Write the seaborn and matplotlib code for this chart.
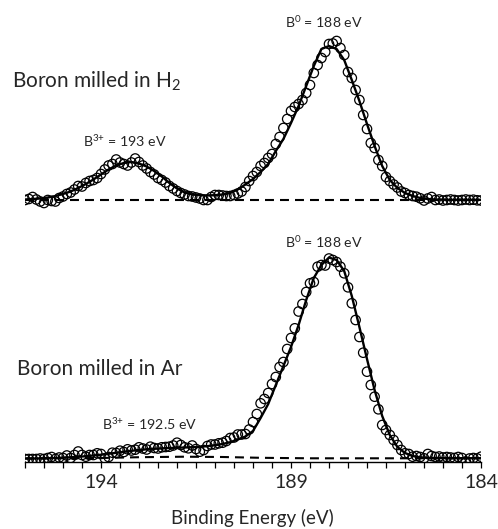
import numpy as np
import pandas as pd
import matplotlib
matplotlib.use("Agg")
import matplotlib.pyplot as plt
from matplotlib.ticker import FixedLocator, MultipleLocator, NullFormatter
import seaborn as sns

# Binding-energy scan (eV): measured points every 0.1 eV, fitted envelope every 0.2 eV
energy_scan = np.linspace(196.0, 184.0, 121)
energy_fit = np.linspace(196.0, 184.0, 61)

# B 1s, boron milled in H2 (intensity, arbitrary units)
h2_counts = [0, 1, 3, 0.5, -1.5, -3, 0, -1, -1.5, 2,
             3.5, 6, 7.5, 10.5, 14, 13.5, 17, 19, 20, 22,
             26, 30.5, 34.5, 36, 40.5, 37.5, 36, 34.5, 37.5, 41.5,
             38, 34.5, 31.5, 28, 25.5, 22, 20, 17.5, 14, 11.5,
             9, 7, 5.5, 4, 3.5, 2.5, 1.5, 0, 0, 3,
             5, 5, 4.5, 4, 4, 5, 6.5, 8.5, 13, 19,
             24, 28, 34, 37, 42, 46, 56, 63, 72, 81,
             89, 93, 96, 100, 107, 115, 127, 135, 142, 148,
             156, 156.5, 159, 152, 145, 128, 122, 110, 100, 85,
             71, 57, 52, 40, 34, 23, 19, 15.5, 12.5, 8.5,
             7, 5, 4, 3.3, 1.7, -0.5, 1.5, 3, 0, 0.5,
             -0.5, 0, 0.5, 0, -0.5, 0, 0.5, 0, 0.3, -0.3,
             -0.5]
h2_fit = [0.5, 1, 1.5, 2.5, 4, 6, 8.5, 12, 16, 20.5,
          25.5, 30.5, 34.5, 37, 38, 36.5, 33.5, 29, 23.5, 17,
          11.5, 7.5, 5.5, 4.8, 4.6, 4.8, 5.5, 7, 10.5, 15.5,
          21, 28, 36, 49, 61, 77, 94, 114, 134, 151,
          154, 151, 140, 120, 99, 76, 54, 34, 20, 12,
          7, 4, 2, 1, 0.5, 0.3, 0.2, 0.2, 0.2, 0.2,
          0.2]
h2_background_energy = [196.0, 184.0]
h2_background = [0.0, 0.0]

# B 1s, boron milled in Ar
ar_counts = [3, 3, 3, 3, 3.5, 3, 4, 5, 3, 4.5,
             4, 6.5, 4, 7, 10.5, 7, 5.3, 7, 7, 8.7,
             8, 3.7, 5, 9.3, 9, 11.3, 10, 12.7, 11.5, 12.3,
             14.7, 13.5, 12.5, 15.3, 14, 13.5, 14.7, 15, 15.3, 16.5,
             19.3, 17, 14.7, 13.7, 16.5, 13, 10.3, 12, 16, 17.5,
             17.5, 18.7, 19.3, 21, 24, 24.5, 27.5, 27.5, 28, 32.5,
             40, 48, 58.7, 63, 69, 78, 85, 95, 100, 113,
             124, 133.7, 150.5, 158, 170, 178.7, 180, 195.3, 197, 196.5,
             203.5, 202, 200, 195.3, 188.7, 174.7, 158.7, 142, 125, 109.3,
             90.3, 77, 65.3, 52.7, 37, 32, 27, 22, 17, 12,
             8.7, 8, 5.3, 6, 5, 3.7, 8, 6, 5, 5.5,
             4.5, 5, 4.5, 4, 5, 4, 0.5, 3.5, 4, 3.5,
             5.3]
ar_fit = [3.5, 3.5, 3.6, 3.8, 4, 4.3, 4.7, 5.2, 5.8, 6.5,
          7.3, 8.2, 9.2, 10.2, 11.2, 12, 12.7, 13.2, 13.6, 14,
          14.3, 14.5, 14.8, 15.3, 15.8, 16.8, 18, 19.8, 22.5, 25.5,
          31, 44, 58, 77, 96, 115, 137, 162, 184, 197,
          204.5, 202, 191, 166, 135, 103, 72, 46, 27, 15,
          9, 6, 4.7, 4.2, 4, 3.9, 3.8, 3.8, 3.8, 3.8,
          3.8]
ar_background_energy = [196.0, 194.0, 193.0, 191.8, 190.8, 189.8, 188.5, 184.0]
ar_background = [3.5, 4.0, 4.8, 5.3, 5.0, 4.2, 3.7, 3.7]

tick_values = [194, 189, 184]
tick_labels = ["194", "189", "184"]

H2_OFFSET = 262  # vertical shift that stacks the H2 spectrum above the Ar one

sns.set_style("white")
plt.rcParams["font.family"] = ["Lato", "DejaVu Sans"]
plt.rcParams["mathtext.fontset"] = "custom"
plt.rcParams["mathtext.rm"] = "Lato"
plt.rcParams["mathtext.default"] = "regular"

W, H = 498, 529
fig = plt.figure(figsize=(W / 100, H / 100), dpi=100)
ax = fig.add_axes([25 / W, (H - 462) / H, (481 - 25) / W, (462 - 20) / H])

points = pd.concat([
    pd.DataFrame({"energy": energy_scan, "intensity": np.asarray(h2_counts) + H2_OFFSET, "sample": "H2"}),
    pd.DataFrame({"energy": energy_scan, "intensity": ar_counts, "sample": "Ar"}),
])
fits = {
    "H2": pd.DataFrame({"energy": energy_fit, "intensity": np.asarray(h2_fit) + H2_OFFSET}),
    "Ar": pd.DataFrame({"energy": energy_fit, "intensity": ar_fit}),
}
backgrounds = {
    "H2": pd.DataFrame({"energy": h2_background_energy,
                        "intensity": np.asarray(h2_background) + H2_OFFSET}),
    "Ar": pd.DataFrame({"energy": ar_background_energy, "intensity": ar_background}),
}

dash = (0, (4.3, 2.9))
for key in ("H2", "Ar"):
    sns.lineplot(data=backgrounds[key], x="energy", y="intensity", ax=ax,
                 color="black", linewidth=1.5, linestyle=dash, sort=False,
                 estimator=None, zorder=2)
    sns.lineplot(data=fits[key], x="energy", y="intensity", ax=ax,
                 color="black", linewidth=1.7, sort=False, estimator=None, zorder=3)

sns.scatterplot(data=points, x="energy", y="intensity", ax=ax, marker="o",
                s=46, color="none", edgecolor="black", linewidth=0.9,
                legend=False, zorder=4)
for coll in ax.collections:
    coll.set_facecolor("none")
    coll.set_edgecolor("black")

ax.set_xlim(196, 184)
ax.set_ylim(0, 442)
sns.despine(ax=ax, left=True, top=True, right=True)
ax.spines["bottom"].set_color("black")
ax.spines["bottom"].set_linewidth(1.0)
ax.set_yticks([])
ax.xaxis.set_major_locator(FixedLocator(tick_values))
ax.set_xticklabels(tick_labels, fontsize=14)
ax.xaxis.set_minor_locator(MultipleLocator(0.5))
ax.xaxis.set_minor_formatter(NullFormatter())
ax.tick_params(axis="x", which="both", direction="out", length=4.5, width=0.9,
               color="black", bottom=True, pad=4)
ax.set_xlabel("")
ax.set_ylabel("")

# peak labels
ax.text(188.13, 434, "B$^{0}$ = 188 eV", ha="center", va="baseline", fontsize=10.2)
ax.text(193.38, 315.3, "B$^{3{+}}$ = 193 eV", ha="center", va="baseline", fontsize=10.2)
ax.text(188.12, 214, "B$^{0}$ = 188 eV", ha="center", va="baseline", fontsize=10.2)
ax.text(192.73, 32, "B$^{3{+}}$ = 192.5 eV", ha="center", va="baseline", fontsize=10.2)

# sample labels and axis title
fig.text(12 / W, (H - 87.5) / H, "Boron milled in H$_{2}$", ha="left", va="baseline", fontsize=15)
fig.text(16.7 / W, (H - 375) / H, "Boron milled in Ar", ha="left", va="baseline", fontsize=15)
fig.text(252.5 / W, (H - 524) / H, "Binding Energy (eV)", ha="center", va="baseline", fontsize=13.5)

fig.savefig("out.png", dpi=100)
